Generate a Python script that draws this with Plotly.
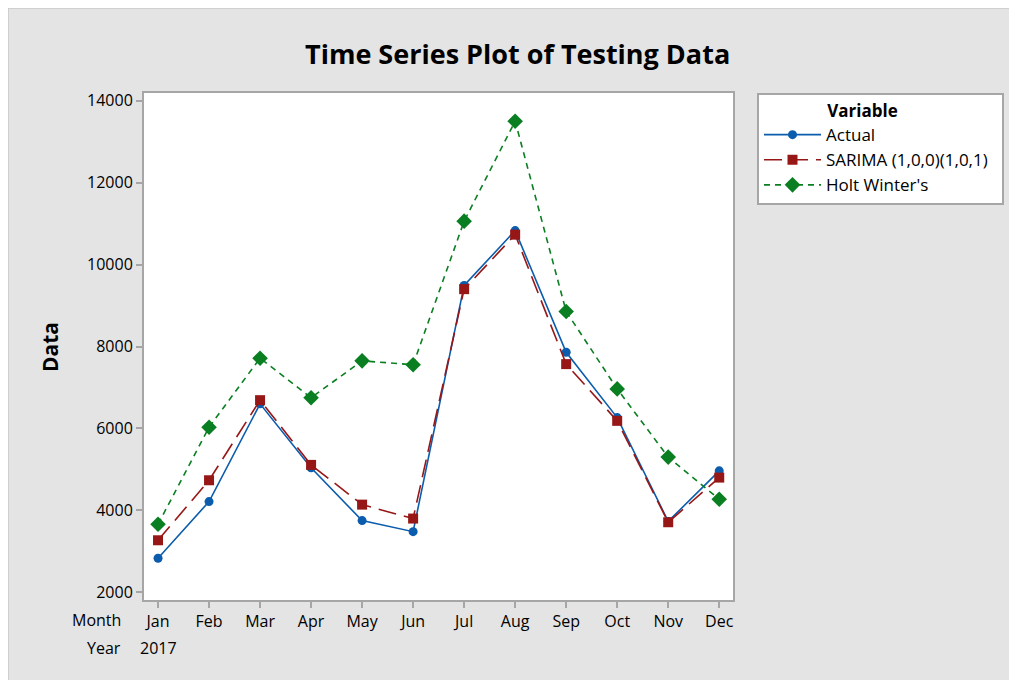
import plotly.graph_objects as go

months = ["Jan", "Feb", "Mar", "Apr", "May", "Jun", "Jul", "Aug", "Sep", "Oct", "Nov", "Dec"]
actual = [2830, 4215, 6600, 5040, 3750, 3480, 9490, 10830, 7860, 6265, 3730, 4965]
sarima = [3270, 4735, 6690, 5110, 4140, 3800, 9400, 10730, 7570, 6185, 3710, 4800]
holt = [3660, 6030, 7715, 6750, 7650, 7555, 11060, 13500, 8855, 6965, 5300, 4270]
y_ticks = [2000, 4000, 6000, 8000, 10000, 12000, 14000]
series_names = ["Actual", "SARIMA (1,0,0)(1,0,1)", "Holt Winter's"]

FONT = "Open Sans"
OFF = 8  # page body margin
L, R, T, B = 144, 733, 93, 600  # plot area in page pixels
W, H = 1017 - OFF, 680 - OFF
pw, ph = R - L, B - T

def px(x):
    return (x - L) / pw

def py(y):
    return (B - y) / ph

idx = list(range(len(months)))
pad = "&nbsp;" * 2

fig = go.Figure()
fig.add_trace(go.Scatter(
    x=idx, y=actual, name=series_names[0], mode="lines+markers",
    line=dict(color="#0b5cad", width=1.6),
    marker=dict(symbol="circle", size=9, color="#0b5cad")))
fig.add_trace(go.Scatter(
    x=idx, y=sarima, name=series_names[1] + pad, mode="lines+markers",
    line=dict(color="#971616", width=1.6, dash="18px,8px"),
    marker=dict(symbol="square", size=10, color="#971616")))
fig.add_trace(go.Scatter(
    x=idx, y=holt, name=series_names[2], mode="lines+markers",
    line=dict(color="#0a7f22", width=1.6, dash="6px,5px"),
    marker=dict(symbol="diamond", size=12, color="#0a7f22")))

axis_common = dict(
    showline=True, linecolor="#a6a6a6", linewidth=2, mirror=True,
    ticks="outside", ticklen=6, tickcolor="#a6a6a6", tickwidth=2,
    showgrid=False, zeroline=False,
    tickfont=dict(family=FONT, size=16, color="#000000"),
)

fig.update_xaxes(
    range=[-0.275, 11.27], tickmode="array", tickvals=idx, ticktext=months,
    **axis_common)
fig.update_yaxes(
    range=[1812, 14188], tickmode="array", tickvals=y_ticks,
    ticktext=[str(v) for v in y_ticks],
    **axis_common)

shapes = [
    dict(type="rect", xref="paper", yref="paper",
         x0=px(OFF), x1=px(1030), y0=py(700), y1=py(OFF),
         fillcolor="rgba(0,0,0,0)", line=dict(color="#c8c8c8", width=1.5), layer="below"),
]

txt = dict(family=FONT, size=16, color="#000000")
annotations = [
    dict(text="Month", xref="paper", yref="paper", x=px(123), y=py(620),
         xanchor="right", yanchor="middle", showarrow=False, font=txt),
    dict(text="Year", xref="paper", yref="paper", x=px(123), y=py(648),
         xanchor="right", yanchor="middle", showarrow=False, font=txt),
    dict(text="2017", xref="paper", yref="paper", x=px(158), y=py(648),
         xanchor="center", yanchor="middle", showarrow=False, font=txt),
    dict(text="<b>Data</b>", xref="paper", yref="paper", x=px(50), y=py(347),
         xanchor="center", yanchor="middle", showarrow=False, textangle=-90,
         font=dict(family=FONT, size=21, color="#000000")),
    dict(text="<b>Time Series Plot of Testing Data</b>", xref="paper", yref="paper",
         x=px(517), y=py(53), xanchor="center", yanchor="middle", showarrow=False,
         font=dict(family=FONT, size=27, color="#000000")),
]

fig.update_layout(
    width=W, height=H,
    margin=dict(l=L - OFF, r=W - (R - OFF), t=T - OFF, b=H - (B - OFF), autoexpand=False),
    paper_bgcolor="#e4e4e4", plot_bgcolor="white",
    shapes=shapes, annotations=annotations,
    legend=dict(
        title=dict(text="&nbsp;" * 15 + "<b>Variable</b>",
                   font=dict(family=FONT, size=17, color="#000000"), side="top"),
        x=px(757), y=1.0, xanchor="left", yanchor="top",
        bgcolor="white", bordercolor="#a6a6a6", borderwidth=2,
        font=dict(family=FONT, size=17, color="#000000"),
        itemwidth=57, tracegroupgap=0,
    ),
    showlegend=True,
)

fig.write_html("out.html")
